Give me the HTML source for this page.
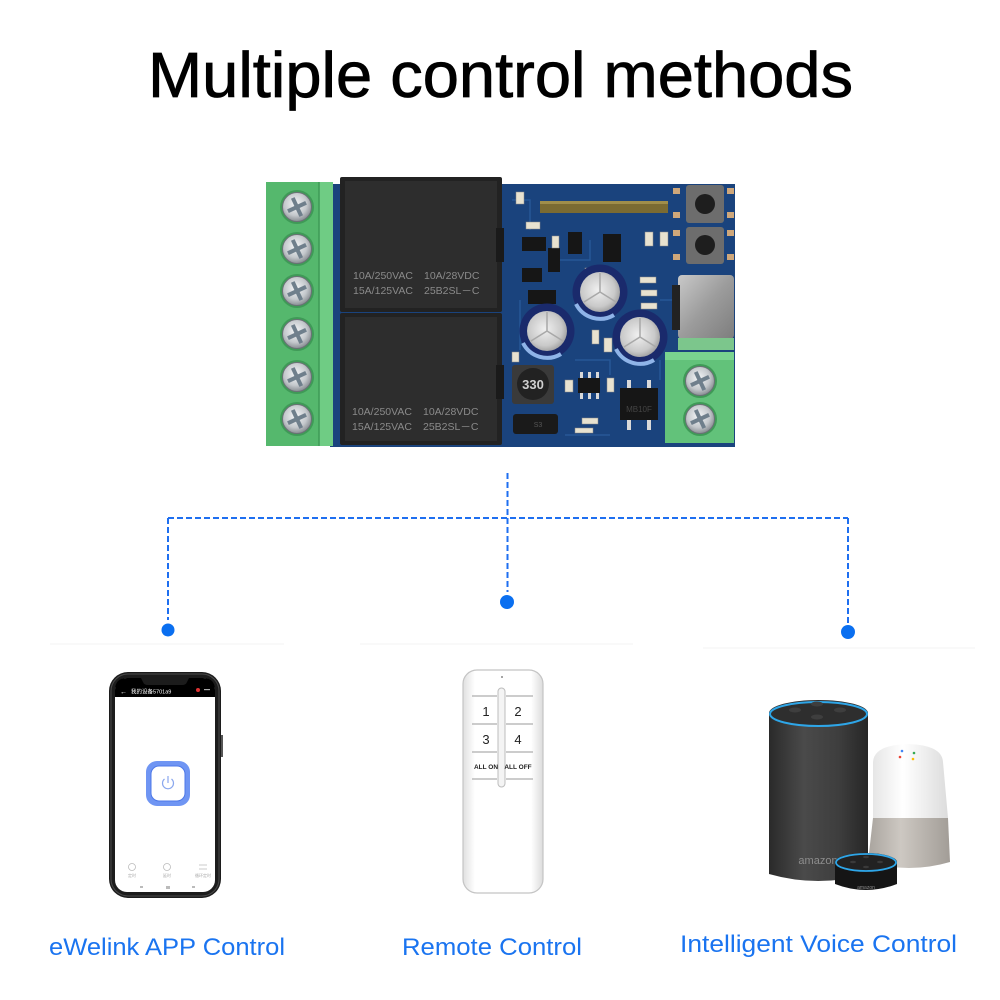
<!DOCTYPE html>
<html><head><meta charset="utf-8"><style>
html,body{margin:0;padding:0;background:#fff;}
svg{display:block;}
text{font-family:"Liberation Sans","Noto Sans CJK SC",sans-serif;}
</style></head><body>
<svg width="1000" height="1000" viewBox="0 0 1000 1000" xmlns="http://www.w3.org/2000/svg">
<defs>
<radialGradient id="screw" cx="0.45" cy="0.4" r="0.65"><stop offset="0" stop-color="#f4f6f8"/><stop offset="0.6" stop-color="#c4c8cc"/><stop offset="1" stop-color="#7b8086"/></radialGradient>
<radialGradient id="capTop" cx="0.45" cy="0.45" r="0.6"><stop offset="0" stop-color="#f0f0f0"/><stop offset="0.7" stop-color="#c9c9c9"/><stop offset="1" stop-color="#9a9a9a"/></radialGradient>
<linearGradient id="echoBody" x1="0" x2="1" y1="0" y2="0"><stop offset="0" stop-color="#2a2a2a"/><stop offset="0.35" stop-color="#4a4a4a"/><stop offset="0.7" stop-color="#3e3e3e"/><stop offset="1" stop-color="#262626"/></linearGradient>
<linearGradient id="ghTop" x1="0" x2="1" y1="0" y2="0"><stop offset="0" stop-color="#e6e6e6"/><stop offset="0.4" stop-color="#ffffff"/><stop offset="1" stop-color="#dcdcdc"/></linearGradient>
<linearGradient id="ghBot" x1="0" x2="1" y1="0" y2="0"><stop offset="0" stop-color="#a9a49e"/><stop offset="0.4" stop-color="#cdc8c2"/><stop offset="1" stop-color="#a29d97"/></linearGradient>
<linearGradient id="usb" x1="0" x2="1" y1="0" y2="1"><stop offset="0" stop-color="#c9c9c9"/><stop offset="0.5" stop-color="#9c9c9c"/><stop offset="1" stop-color="#7d7d7d"/></linearGradient>
<linearGradient id="remote" x1="0" x2="1" y1="0" y2="0"><stop offset="0" stop-color="#e0e0e0"/><stop offset="0.15" stop-color="#ffffff"/><stop offset="0.85" stop-color="#ffffff"/><stop offset="1" stop-color="#dcdcdc"/></linearGradient>
<g id="scr">
  <circle r="17" fill="#3f9a57"/>
  <circle r="14.5" fill="url(#screw)" stroke="#6b7076" stroke-width="1"/>
  <rect x="-10" y="-2" width="20" height="4" fill="#6f7f8c" transform="rotate(-25)"/>
  <rect x="-2" y="-10" width="4" height="20" fill="#6f7f8c" transform="rotate(-25)"/>
</g>
<g id="cap">
  <circle r="27.5" fill="#1a2a6c"/>
  <path d="M -24 12 A 27 27 0 0 0 14 23" stroke="#8fb4e8" stroke-width="4" fill="none"/>
  <circle r="20" fill="url(#capTop)"/>
  <path d="M0 0 L0 -19 M0 0 L16 10 M0 0 L-16 10" stroke="#a8a8a8" stroke-width="1.5"/>
</g>
</defs>

<!-- Title -->
<text x="148" y="97" font-size="64" textLength="705" lengthAdjust="spacingAndGlyphs" fill="#000" stroke="#000" stroke-width="0.8">Multiple control methods</text>

<!-- ===== Board ===== -->
<rect x="330" y="184" width="405" height="263" fill="#1a437d"/>
<g stroke="#2a5c9e" stroke-width="1.5" fill="none" opacity="0.8">
  <path d="M512 200 L530 200 L530 230"/><path d="M560 260 L590 260 L590 240"/>
  <path d="M520 300 L520 350"/><path d="M660 300 L672 300"/><path d="M575 360 L610 360 L610 375"/>
  <path d="M660 360 L660 380"/><path d="M565 435 L610 435"/>
</g>
<!-- left terminal -->
<rect x="266" y="182" width="67" height="264" fill="#55b86d"/>
<rect x="319" y="182" width="14" height="264" fill="#6fcc84"/>
<line x1="319" y1="182" x2="319" y2="446" stroke="#3f9a57" stroke-width="1.5"/>
<use href="#scr" x="297" y="207"/>
<use href="#scr" x="297" y="249"/>
<use href="#scr" x="297" y="291"/>
<use href="#scr" x="297" y="334"/>
<use href="#scr" x="297" y="377"/>
<use href="#scr" x="297" y="419"/>
<!-- relays -->
<rect x="340" y="177" width="162" height="135" rx="2" fill="#222"/>
<rect x="345" y="181" width="152" height="127" fill="#2d2d2d"/>
<rect x="496" y="228" width="8" height="34" fill="#1a1a1a"/>
<rect x="340" y="313" width="162" height="132" rx="2" fill="#222"/>
<rect x="345" y="317" width="152" height="124" fill="#2d2d2d"/>
<rect x="496" y="365" width="8" height="34" fill="#1a1a1a"/>
<g fill="#8a8a8a" font-size="10.5">
<text x="353" y="279">10A/250VAC</text><text x="424" y="279">10A/28VDC</text>
<text x="353" y="294">15A/125VAC</text><text x="424" y="294">25B2SL－C</text>
<text x="352" y="415">10A/250VAC</text><text x="423" y="415">10A/28VDC</text>
<text x="352" y="430">15A/125VAC</text><text x="423" y="430">25B2SL－C</text>
</g>
<!-- module strip -->
<rect x="540" y="201" width="128" height="12" fill="#7b6b32"/>
<rect x="540" y="201" width="128" height="3" fill="#a08e4a"/>
<!-- small parts -->
<g fill="#161616">
  <rect x="522" y="237" width="24" height="14"/><rect x="548" y="248" width="12" height="24"/>
  <rect x="603" y="234" width="18" height="28"/><rect x="568" y="232" width="14" height="22"/>
  <rect x="522" y="268" width="20" height="14"/><rect x="528" y="290" width="28" height="14"/>
  <rect x="578" y="378" width="22" height="15"/>
  <rect x="620" y="388" width="38" height="32"/>
</g>
<g fill="#d9d9d9">
  <rect x="627" y="380" width="4" height="8"/><rect x="647" y="380" width="4" height="8"/>
  <rect x="627" y="420" width="4" height="10"/><rect x="647" y="420" width="4" height="10"/>
  <rect x="580" y="372" width="3" height="6"/><rect x="588" y="372" width="3" height="6"/><rect x="596" y="372" width="3" height="6"/>
  <rect x="580" y="393" width="3" height="6"/><rect x="588" y="393" width="3" height="6"/><rect x="596" y="393" width="3" height="6"/>
</g>
<g fill="#e8e2d0" stroke="#8a8a8a" stroke-width="0.5">
  <rect x="516" y="192" width="8" height="12"/><rect x="526" y="222" width="14" height="7"/>
  <rect x="552" y="236" width="7" height="12"/><rect x="585" y="268" width="7" height="14"/>
  <rect x="645" y="232" width="8" height="14"/><rect x="660" y="232" width="8" height="14"/>
  <rect x="640" y="277" width="16" height="6"/><rect x="641" y="290" width="16" height="6"/>
  <rect x="641" y="303" width="16" height="6"/><rect x="604" y="338" width="8" height="14"/>
  <rect x="592" y="330" width="7" height="14"/><rect x="565" y="380" width="8" height="12"/>
  <rect x="607" y="378" width="7" height="14"/><rect x="582" y="418" width="16" height="6"/>
  <rect x="575" y="428" width="18" height="5"/><rect x="512" y="352" width="7" height="10"/>
</g>
<!-- tact switches -->
<g fill="#cfa77a"><rect x="673" y="188" width="7" height="6"/><rect x="673" y="212" width="7" height="6"/><rect x="727" y="188" width="7" height="6"/><rect x="727" y="212" width="7" height="6"/>
<rect x="673" y="230" width="7" height="6"/><rect x="673" y="254" width="7" height="6"/><rect x="727" y="230" width="7" height="6"/><rect x="727" y="254" width="7" height="6"/></g>
<rect x="686" y="185" width="38" height="38" rx="3" fill="#6d6d6d"/>
<circle cx="705" cy="204" r="10" fill="#1e1e1e"/>
<rect x="686" y="227" width="38" height="37" rx="3" fill="#6d6d6d"/>
<circle cx="705" cy="245" r="10" fill="#1e1e1e"/>
<!-- usb -->
<rect x="678" y="275" width="56" height="64" rx="4" fill="url(#usb)"/>
<rect x="672" y="285" width="8" height="45" fill="#222"/>
<rect x="678" y="338" width="56" height="12" fill="#7cc68c"/>
<!-- caps -->
<use href="#cap" x="600" y="292"/>
<use href="#cap" x="547" y="331"/>
<use href="#cap" x="640" y="337"/>
<!-- inductor -->
<rect x="512" y="365" width="42" height="39" rx="3" fill="#3a3a3a"/>
<circle cx="533" cy="384" r="16" fill="#222"/>
<text x="533" y="389" font-size="13" fill="#cfcfcf" text-anchor="middle" font-weight="bold">330</text>
<!-- diode -->
<rect x="513" y="414" width="45" height="20" rx="3" fill="#1a1a1a"/>
<text x="538" y="427" font-size="7" fill="#555" text-anchor="middle">S3</text>
<text x="639" y="412" font-size="8" fill="#444" text-anchor="middle">MB10F</text>
<!-- right terminal -->
<rect x="665" y="352" width="69" height="91" fill="#62c27a"/>
<rect x="665" y="352" width="69" height="8" fill="#79d48f"/>
<use href="#scr" x="700" y="381"/>
<use href="#scr" x="700" y="419"/>

<!-- ===== Connectors ===== -->
<g stroke="#1f6ff0" stroke-width="2" fill="none" stroke-dasharray="6 3">
  <line x1="507.5" y1="473" x2="507.5" y2="592"/>
  <line x1="168" y1="518" x2="848" y2="518"/>
  <line x1="168" y1="518" x2="168" y2="620"/>
  <line x1="848" y1="518" x2="848" y2="624"/>
</g>
<g fill="#0a6ff0">
  <circle cx="168" cy="630" r="6.5"/>
  <circle cx="507" cy="602" r="7"/>
  <circle cx="848" cy="632" r="7"/>
</g>
<g stroke="#f5f5f5" stroke-width="1.2">
  <line x1="50" y1="644" x2="284" y2="644"/>
  <line x1="360" y1="644" x2="633" y2="644"/>
  <line x1="703" y1="648" x2="975" y2="648"/>
</g>

<!-- ===== Phone ===== -->
<rect x="109" y="672" width="112" height="226" rx="19" fill="#1c1c1c"/>
<rect x="111" y="674" width="108" height="222" rx="17" fill="none" stroke="#4a4a4a" stroke-width="1"/>
<rect x="221" y="735" width="2" height="22" fill="#555"/>
<rect x="115" y="678" width="100" height="214" rx="12" fill="#fff"/>
<path d="M115 697 L115 690 Q115 678 127 678 L203 678 Q215 678 215 690 L215 697 Z" fill="#000"/>
<path d="M141 678 L189 678 L187 682 Q186 685 182 685 L148 685 Q144 685 143 682 Z" fill="#1c1c1c"/>
<text x="120" y="694" font-size="7" fill="#fff">←</text>
<text x="131" y="693.5" font-size="5.5" fill="#fff">我的设备5701a9</text>
<circle cx="198" cy="690" r="2" fill="#d33"/>
<rect x="204" y="689" width="6" height="1.2" fill="#aaa"/>
<rect x="146" y="761" width="44" height="45" rx="11" fill="#6f95f3"/>
<rect x="151" y="766" width="34" height="35" rx="8" fill="#fff" stroke="#4d78e8" stroke-width="1"/>
<path d="M164.5 779 A 5.5 5.5 0 1 0 171.5 779" fill="none" stroke="#8aa7ee" stroke-width="1.2"/>
<line x1="168" y1="776" x2="168" y2="783" stroke="#8aa7ee" stroke-width="1.2"/>
<g fill="none" stroke="#bbb" stroke-width="0.8">
  <circle cx="132" cy="867" r="3.5"/><circle cx="167" cy="867" r="3.5"/>
  <path d="M199 865 L207 865 M207 869 L199 869"/>
</g>
<g font-size="4" fill="#aaa" text-anchor="middle">
  <text x="132" y="877">定时</text><text x="167" y="877">延时</text><text x="203" y="877">循环定时</text>
</g>
<g fill="#bbb"><rect x="140" y="886" width="3" height="2"/><rect x="166" y="886" width="4" height="3"/><rect x="192" y="886" width="3" height="2"/></g>

<!-- ===== Remote ===== -->
<rect x="463" y="670" width="80" height="223" rx="14" fill="url(#remote)" stroke="#c4c4c4" stroke-width="1.2"/>
<circle cx="502" cy="677" r="1" fill="#888"/>
<rect x="498" y="688" width="7" height="99" rx="3.5" fill="#f4f4f4" stroke="#bdbdbd" stroke-width="1"/>
<g stroke="#9a9a9a" stroke-width="1">
  <line x1="472" y1="696" x2="497" y2="696"/><line x1="506" y1="696" x2="533" y2="696"/>
  <line x1="472" y1="724" x2="497" y2="724"/><line x1="506" y1="724" x2="533" y2="724"/>
  <line x1="472" y1="752" x2="497" y2="752"/><line x1="506" y1="752" x2="533" y2="752"/>
  <line x1="472" y1="779" x2="497" y2="779"/><line x1="506" y1="779" x2="533" y2="779"/>
</g>
<g font-size="13" fill="#222" text-anchor="middle">
  <text x="486" y="716">1</text><text x="518" y="716">2</text>
  <text x="486" y="744">3</text><text x="518" y="744">4</text>
</g>
<g font-size="6.5" fill="#222" font-weight="bold" text-anchor="middle">
  <text x="486" y="769">ALL ON</text><text x="518" y="769">ALL OFF</text>
</g>

<!-- ===== Google Home ===== -->
<path d="M873 762 Q874 745 908 744 Q942 745 943 762 L948 818 L873 818 Z" fill="url(#ghTop)"/>
<path d="M873 818 L948 818 L950 862 Q909 874 868 862 Z" fill="url(#ghBot)"/>
<circle cx="902" cy="751" r="1.3" fill="#4285f4"/><circle cx="914" cy="753" r="1.3" fill="#34a853"/>
<circle cx="900" cy="757" r="1.3" fill="#ea4335"/><circle cx="913" cy="759" r="1.3" fill="#fbbc05"/>
<!-- ===== Echo ===== -->
<path d="M769 713 L769 874 Q818 888 868 874 L868 713 Z" fill="url(#echoBody)"/>
<ellipse cx="818.5" cy="713" rx="49.5" ry="13" fill="#2e2e2e"/>
<ellipse cx="818.5" cy="714" rx="48.5" ry="12" fill="none" stroke="#2ea6e8" stroke-width="2"/>
<g fill="#3e3e3e"><ellipse cx="817" cy="704" rx="6" ry="2.5"/><ellipse cx="795" cy="710" rx="6" ry="2.5"/><ellipse cx="840" cy="710" rx="6" ry="2.5"/><ellipse cx="817" cy="717" rx="6" ry="2.5"/></g>
<text x="818" y="864" font-size="11" fill="#8d8d8d" text-anchor="middle">amazon</text>
<!-- ===== Echo Dot ===== -->
<path d="M835 862 L835 884 Q866 896 897 884 L897 862 Z" fill="#151515"/>
<ellipse cx="866" cy="862" rx="31" ry="9" fill="#222"/>
<ellipse cx="866" cy="862.5" rx="30" ry="8.5" fill="none" stroke="#2ea6e8" stroke-width="1.8"/>
<g fill="#3a3a3a"><ellipse cx="866" cy="857" rx="3" ry="1.3"/><ellipse cx="853" cy="862" rx="3" ry="1.3"/><ellipse cx="880" cy="862" rx="3" ry="1.3"/><ellipse cx="866" cy="867" rx="3" ry="1.3"/></g>
<text x="866" y="889" font-size="5" fill="#888" text-anchor="middle">amazon</text>

<!-- ===== Labels ===== -->
<g fill="#1a74f0" font-size="24">
  <text x="49" y="955" textLength="236" lengthAdjust="spacingAndGlyphs">eWelink APP Control</text>
  <text x="402" y="955" textLength="180" lengthAdjust="spacingAndGlyphs">Remote Control</text>
  <text x="680" y="952" textLength="277" lengthAdjust="spacingAndGlyphs">Intelligent Voice Control</text>
</g>
</svg>
</body></html>
